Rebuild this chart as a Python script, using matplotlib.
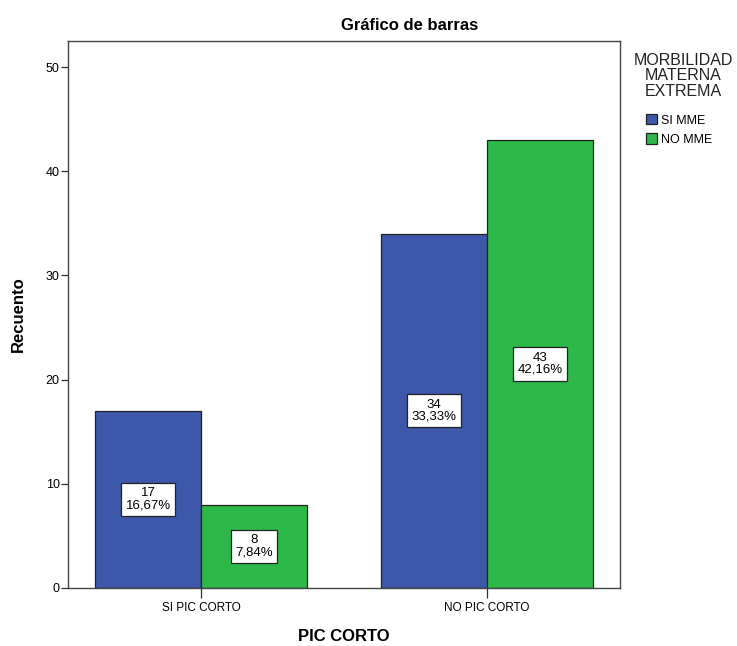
import matplotlib.pyplot as plt
import numpy as np

plt.rcParams['font.family'] = ['Liberation Sans', 'DejaVu Sans']

categories = ['SI PIC CORTO', 'NO PIC CORTO']
series_names = ['SI MME', 'NO MME']
si_mme = [17, 34]
no_mme = [8, 43]
si_pct = ['16,67%', '33,33%']
no_pct = ['7,84%', '42,16%']
colors = ['#3d57aa', '#2eb84a']

W, H = 737, 646
fig = plt.figure(figsize=(W / 100, H / 100), dpi=100)
ax = fig.add_axes([0.0923, 0.0898, 0.749, 0.8467])

x = np.arange(len(categories))
w = 0.37
edge = '#222222'
ax.bar(x - w / 2, si_mme, w, color=colors[0], edgecolor=edge, linewidth=0.9, label=series_names[0])
ax.bar(x + w / 2, no_mme, w, color=colors[1], edgecolor=edge, linewidth=0.9, label=series_names[1])

box = dict(boxstyle='square,pad=0.35', facecolor='white', edgecolor='#222222', linewidth=0.9)
for xs, vals, pcts in [(x - w / 2, si_mme, si_pct), (x + w / 2, no_mme, no_pct)]:
    for xi, v, p in zip(xs, vals, pcts):
        ax.text(xi, v / 2, '{}\n{}'.format(v, p), ha='center', va='center',
                fontsize=9.5, linespacing=1.0, bbox=box)

ax.set_xlim(-0.465, 1.465)
ax.set_ylim(0, 52.5)
ax.set_yticks([0, 10, 20, 30, 40, 50])
ax.set_xticks(x)
ax.set_xticklabels(categories)
ax.tick_params(axis='y', length=5, width=0.9, labelsize=9, pad=1, color='#333333')
ax.tick_params(axis='x', length=7, width=0.9, labelsize=8.5, pad=3, color='#333333')
for s in ax.spines.values():
    s.set_color('#444444')
    s.set_linewidth(1.0)

ax.set_ylabel('Recuento', fontsize=12, fontweight='bold', labelpad=14)
ax.set_xlabel('PIC CORTO', fontsize=12, fontweight='bold', labelpad=11)
fig.text(410 / W, 1 - 25 / H, 'Gráfico de barras', ha='center', va='center',
         fontsize=12, fontweight='bold')

fig.text(683 / W, 1 - 76 / H, 'MORBILIDAD\nMATERNA\nEXTREMA', ha='center', va='center',
         fontsize=11.5, linespacing=1.05, color='#222222')
ax.legend(loc='upper left', bbox_to_anchor=(646 / W, 1 - 114 / H), bbox_transform=fig.transFigure,
          frameon=False, fontsize=9, handlelength=0.9, handleheight=0.9, handletextpad=0.3,
          labelspacing=0.55, borderaxespad=0, borderpad=0)

fig.savefig('out.png', dpi=100)
